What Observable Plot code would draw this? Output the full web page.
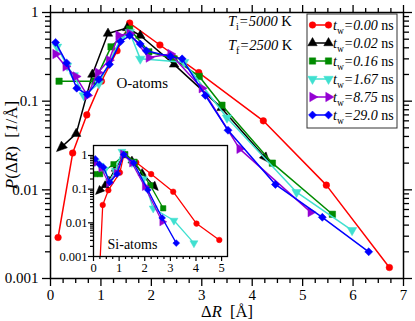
<!DOCTYPE html>
<html><head><meta charset="utf-8">
<script src="https://cdn.jsdelivr.net/npm/d3@7"></script>
<script src="https://cdn.jsdelivr.net/npm/@observablehq/plot@0.6"></script>
<style>
html,body{margin:0;padding:0;background:#fff;}
#wrap{position:relative;width:415px;height:321px;overflow:hidden;font-family:"Liberation Serif","Times New Roman",serif;}
#wrap svg{position:absolute;overflow:visible;}
</style></head><body><div id="wrap"></div>
<script>
// ---------- data ----------
const waitTimes = ["0.00","0.02","0.16","1.67","8.75","29.0"];
const seriesColors = ["#ff0000","#000000","#008b00","#40e0d0","#9400d3","#0000ff"];

// O-atoms (main panel)
const oX0 = [0.15,0.44,0.72,1.01,1.32,1.57,2.17,2.94,4.22,5.47,6.72];
const oY0 = [0.0029,0.026,0.070,0.168,0.37,0.76,0.43,0.21,0.060,0.0113,0.00133];
const oX1 = [0.15,0.51,0.83,1.14,1.52,1.78,2.45,3.39,4.32];
const oY1 = [0.028,0.043,0.20,0.58,0.67,0.55,0.26,0.084,0.021];
const oX2 = [0.17,0.88,1.20,1.57,1.95,2.45,2.95,3.40,4.40,5.59];
const oY2 = [0.168,0.168,0.41,0.65,0.36,0.30,0.19,0.09,0.02,0.0053];
const oX3 = [0.13,0.33,0.46,0.66,0.96,1.39,1.57,1.78,2.65,3.50,4.88,5.98];
const oY3 = [0.41,0.25,0.195,0.116,0.158,0.50,0.60,0.30,0.275,0.065,0.0094,0.0035];
const oX4 = [0.10,0.30,0.50,0.73,0.94,1.16,1.35,1.57,1.95,2.38,3.00,3.75,5.16];
const oY4 = [0.34,0.246,0.19,0.116,0.21,0.29,0.55,0.58,0.31,0.34,0.14,0.029,0.0056];
const oX5 = [0.10,0.32,0.52,0.73,0.96,1.17,1.39,1.57,1.78,1.90,2.38,2.61,3.07,3.52,4.46,5.39,6.31];
const oY5 = [0.46,0.27,0.14,0.119,0.176,0.26,0.47,0.55,0.44,0.37,0.32,0.30,0.116,0.047,0.0115,0.0049,0.0020];

// Si-atoms (inset)
const sX0 = [0.22,0.36,0.58,1.03,1.19,1.67,2.25,3.11,4.02,4.91];
const sY0 = [0.0002,0.034,0.093,0.31,1.1,0.62,0.28,0.084,0.0095,0.0031];
const sX1 = [0.13,0.45,0.60,0.85,1.18,1.50,1.90,2.48];
const sY1 = [0.076,0.13,0.18,0.40,1.0,0.70,0.30,0.10];
const sX2 = [0.07,0.26,0.78,1.24,1.60,2.22,2.72];
const sY2 = [0.28,0.28,0.55,1.1,0.65,0.13,0.027];
const sX3 = [0.07,0.25,0.45,0.62,0.85,1.11,1.50,1.95,2.33,3.14,3.92];
const sY3 = [0.65,0.50,0.38,0.17,0.35,1.3,0.60,0.20,0.027,0.0117,0.0025];
const sX4 = [0.07,0.30,0.60,0.90,1.15,1.50,2.00,2.68];
const sY4 = [0.60,0.42,0.15,0.30,1.1,0.60,0.12,0.0107];
const sX5 = [0.07,0.23,0.39,0.63,0.92,1.18,1.57,2.12,2.68,3.23];
const sY5 = [0.79,0.55,0.45,0.16,0.28,1.07,0.60,0.095,0.014,0.0025];

const xTicksMain = [0,1,2,3,4,5,6,7];
const xTicksInset = [0,1,2,3,4,5];
const yTicks = [0.001,0.01,0.1,1];
const yTickLabels = ["0.001","0.01","0.1","1"];

// ---------- helpers ----------
const FONT = '"Liberation Serif","Times New Roman",serif';
const rows = (xs, ys) => xs.map((x, i) => ({x, y: ys[i]}));
const oSeries = [[oX0,oY0],[oX1,oY1],[oX2,oY2],[oX3,oY3],[oX4,oY4],[oX5,oY5]].map(([a,b]) => rows(a,b));
const sSeries = [[sX0,sY0],[sX1,sY1],[sX2,sY2],[sX3,sY3],[sX4,sY4],[sX5,sY5]].map(([a,b]) => rows(a,b));

const R3 = Math.sqrt(3);
const triSym = (a0) => ({draw(ctx, size) {
  const R = Math.sqrt(size / (3 * R3 / 4));
  for (let k = 0; k < 3; k++) {
    const a = a0 + k * 2 * Math.PI / 3;
    const px = R * Math.cos(a), py = R * Math.sin(a);
    k ? ctx.lineTo(px, py) : ctx.moveTo(px, py);
  }
  ctx.closePath();
}});
const symCircle = {draw(ctx, size) { const r = Math.sqrt(size / Math.PI); ctx.moveTo(r, 0); ctx.arc(0, 0, r, 0, 2 * Math.PI); }};
const symSquare = {draw(ctx, size) { const h = Math.sqrt(size) / 2; ctx.rect(-h, -h, 2 * h, 2 * h); }};
const symDiamond = {draw(ctx, size) { const h = Math.sqrt(size / 2); ctx.moveTo(0, -h); ctx.lineTo(h, 0); ctx.lineTo(0, h); ctx.lineTo(-h, 0); ctx.closePath(); }};
const symArrow = {draw(ctx, size) { const s = Math.sqrt(size) / 6; ctx.moveTo(2 * s, 0); ctx.lineTo(-8 * s, -4.2 * s); ctx.lineTo(-8 * s, 4.2 * s); ctx.closePath(); }};
const symbols = [symCircle, triSym(-Math.PI/2), symSquare, triSym(Math.PI/2), triSym(0), symDiamond];
const rSizes = [3.3, 3.5, 3.6, 3.5, 3.5, 3.2];

function minorLog(top) {
  const out = [];
  for (const e of [0.001, 0.01, 0.1]) for (let k = 2; k <= 9; k++) { const v = k * e; if (v <= top) out.push(v); }
  return out;
}
const xMinorMain = d3.range(0, 7.001, 0.25).filter(v => v % 1 !== 0);
const xMinorInset = d3.range(0, 5.2, 0.25).filter(v => v % 1 !== 0);
const yMinorMain = minorLog(1);
const yMinorInset = minorLog(1.98);

// end arrows of the black (t_w=0.02) curve, oriented with the plot's own scales
function endArrows(d, plot) {
  if (!plot) return [];
  const xs = plot.scale("x"), ys = plot.scale("y");
  const fx = d3.scaleLinear().domain(xs.domain).range(xs.range);
  const fy = d3.scaleLog().domain(ys.domain).range(ys.range);
  const n = d.length;
  const ang = (a, b) => Math.atan2(fy(b.y) - fy(a.y), fx(b.x) - fx(a.x)) * 180 / Math.PI;
  return [{...d[0], rot: ang(d[1], d[0])}, {...d[n - 1], rot: ang(d[n - 2], d[n - 1])}];
}

function seriesMarks(data, scale, clip, plotRef) {
  const m = [];
  data.forEach((d, i) => {
    m.push(Plot.line(d, {x: "x", y: "y", stroke: seriesColors[i], strokeWidth: 1.5 * scale, clip}));
    if (i === 1) {
      m.push(Plot.dot(d.slice(1, -1), {x: "x", y: "y", fill: seriesColors[i], stroke: seriesColors[i], strokeWidth: 0.5, symbol: symbols[i], r: rSizes[i] * scale, clip}));
      m.push(Plot.dot(endArrows(d, plotRef), {x: "x", y: "y", rotate: "rot", fill: "black", stroke: "black", strokeWidth: 0.5, symbol: symArrow, r: 3.6 * scale, clip}));
    } else {
      m.push(Plot.dot(d, {x: "x", y: "y", fill: seriesColors[i], stroke: seriesColors[i], strokeWidth: 0.5, symbol: symbols[i], r: rSizes[i] * scale, clip}));
    }
  });
  return m;
}

// ---------- main plot ----------
function buildMain(ref) {
  return Plot.plot({
    width: 415, height: 321,
    marginLeft: 50, marginRight: 12, marginTop: 12, marginBottom: 43,
    style: {fontFamily: FONT, fontSize: "15px", background: "transparent", color: "black", overflow: "visible"},
    x: {domain: [0, 7]},
    y: {type: "log", domain: [0.001, 1]},
    marks: [
      ...seriesMarks(oSeries, 1, true, ref),
      Plot.text([{x: 1.82, y: 0.158, t: "O-atoms"}], {x: "x", y: "y", text: "t", fontSize: 15, fill: "black"}),
      Plot.frame({stroke: "black", strokeWidth: 1.5}),
      Plot.axisX(xTicksMain, {anchor: "bottom", tickSize: 8, tickPadding: 3, tickFormat: d => String(d), label: null, strokeWidth: 1.3}),
      Plot.axisX(xMinorMain, {anchor: "bottom", tickSize: 5, fill: "none", label: null, strokeWidth: 1.3}),
      Plot.axisX(xTicksMain, {anchor: "top", tickSize: 8, fill: "none", label: null, strokeWidth: 1.3}),
      Plot.axisX(xMinorMain, {anchor: "top", tickSize: 5, fill: "none", label: null, strokeWidth: 1.3}),
      Plot.axisY(yTicks, {anchor: "left", tickSize: 8, tickPadding: 4, tickFormat: d => yTickLabels[yTicks.indexOf(d)], label: null, strokeWidth: 1.3}),
      Plot.axisY(yMinorMain, {anchor: "left", tickSize: 5, fill: "none", label: null, strokeWidth: 1.3}),
      Plot.axisY(yTicks, {anchor: "right", tickSize: 8, fill: "none", label: null, strokeWidth: 1.3}),
      Plot.axisY(yMinorMain, {anchor: "right", tickSize: 5, fill: "none", label: null, strokeWidth: 1.3})
    ]
  });
}
const main = buildMain(buildMain(null));
main.style.left = "0px"; main.style.top = "0px";
document.getElementById("wrap").appendChild(main);

// ---------- inset ----------
function buildInset(ref) {
  return Plot.plot({
    width: 175, height: 134,
    marginLeft: 40, marginRight: 1, marginTop: 1, marginBottom: 22,
    style: {fontFamily: FONT, fontSize: "12.5px", background: "transparent", color: "black", overflow: "visible"},
    x: {domain: [0, 5.23]},
    y: {type: "log", domain: [0.001, 1.98]},
    marks: [
      Plot.frame({fill: "white", stroke: null}),
      ...seriesMarks(sSeries, 0.85, true, ref),
      Plot.text([{x: 1.52, y: 0.00227, t: "Si-atoms"}], {x: "x", y: "y", text: "t", fontSize: 14, fill: "black"}),
      Plot.frame({stroke: "black", strokeWidth: 1.3}),
      Plot.axisX(xTicksInset, {anchor: "bottom", tickSize: 5, tickPadding: 2, tickFormat: d => String(d), label: null, strokeWidth: 1.2}),
      Plot.axisX(xMinorInset, {anchor: "bottom", tickSize: 3, fill: "none", label: null, strokeWidth: 1.2}),
      Plot.axisY(yTicks, {anchor: "left", tickSize: 5, tickPadding: 1, tickFormat: d => yTickLabels[yTicks.indexOf(d)], label: null, strokeWidth: 1.2}),
      Plot.axisY(yMinorInset, {anchor: "left", tickSize: 3, fill: "none", label: null, strokeWidth: 1.2})
    ]
  });
}
const inset = buildInset(buildInset(null));
inset.style.left = "53px"; inset.style.top = "144px";
document.getElementById("wrap").appendChild(inset);

// ---------- titles, annotations, legend ----------
const svg = d3.select(main);
const g = svg.append("g").attr("font-family", FONT).attr("fill", "black").attr("text-anchor", "start");

// y title
const yt = g.append("text").attr("transform", "translate(17,145) rotate(-90)").attr("text-anchor", "middle").attr("font-size", 17);
yt.append("tspan").attr("font-style", "italic").text("P");
yt.append("tspan").text("(\u0394");
yt.append("tspan").attr("font-style", "italic").text("R");
yt.append("tspan").text(")\u00a0\u00a0[");
yt.append("tspan").attr("font-style", "italic").text("1");
yt.append("tspan").text("/\u00c5]");

// x title
const xt = g.append("text").attr("x", 227).attr("y", 317).attr("text-anchor", "middle").attr("font-size", 16.5);
xt.append("tspan").text("\u0394");
xt.append("tspan").attr("font-style", "italic").text("R");
xt.append("tspan").text("\u00a0\u00a0[\u00c5]");

// temperatures
function tempText(y, sub, val) {
  const t = g.append("text").attr("x", 228).attr("y", y).attr("font-size", 14.5).attr("text-anchor", "start");
  t.append("tspan").attr("font-style", "italic").text("T");
  t.append("tspan").attr("font-size", 10).attr("dy", 4).text(sub);
  t.append("tspan").attr("dy", -4).attr("font-style", "italic").text("=" + val);
  t.append("tspan").text(" K");
}
tempText(26, "i", "5000");
tempText(50, "f", "2500");

// legend
const lg = g.append("g");
lg.append("rect").attr("x", 307).attr("y", 14).attr("width", 90).attr("height", 114)
  .attr("fill", "white").attr("stroke", "#333").attr("stroke-width", 1);
waitTimes.forEach((w, i) => {
  const cy = 25 + 18 * i;
  lg.append("line").attr("x1", 312).attr("x2", 329).attr("y1", cy).attr("y2", cy)
    .attr("stroke", seriesColors[i]).attr("stroke-width", 1.5);
  [312.5, 328.5].forEach(cx => {
    lg.append("path").attr("transform", `translate(${cx},${cy})`)
      .attr("d", d3.symbol(symbols[i], Math.PI * rSizes[i] * rSizes[i])())
      .attr("fill", seriesColors[i]).attr("stroke", seriesColors[i]).attr("stroke-width", 0.5);
  });
  const t = lg.append("text").attr("x", 333).attr("y", cy + 5).attr("font-size", 14).attr("text-anchor", "start");
  t.append("tspan").attr("font-style", "italic").text("t");
  t.append("tspan").attr("font-size", 9.5).attr("dy", 4).text("w");
  t.append("tspan").attr("dy", -4).attr("font-style", "italic").text("=" + w);
  t.append("tspan").text(" ns");
});
</script></body></html>
